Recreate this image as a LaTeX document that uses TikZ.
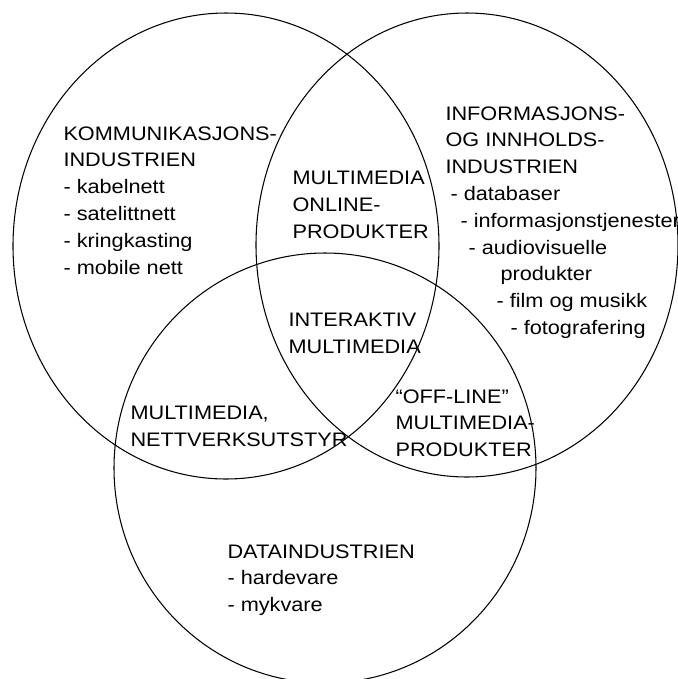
\documentclass[tikz,border=0pt]{standalone}
\usepackage{fontspec}
\setmainfont{Liberation Sans}[FakeStretch=1.11]
\usepackage{tikz}

\begin{document}
\begin{tikzpicture}[x=0.025cm,y=-0.025cm,line width=0.75pt,
  lbl/.style={anchor=north west,inner sep=0pt,align=left,font={\fontsize{13.9}{19.06}\selectfont}}]
\useasboundingbox (0,0) rectangle (678,679);
\draw (226,246) ellipse [x radius=213,y radius=233];
\draw (467,245) ellipse [x radius=211,y radius=232];
\draw (325,468) ellipse [x radius=211,y radius=215];
\node[lbl] (komm) at (63,126) {KOMMUNIKASJONS-\\INDUSTRIEN\\- kabelnett\\- satelittnett\\- kringkasting\\- mobile nett};
\node[lbl] (info) at (445,106) {INFORMASJONS-\\OG INNHOLDS-\\INDUSTRIEN\\\hspace*{0.125cm}- databaser\\\hspace*{0.375cm}- informasjonstjenester\\\hspace*{0.575cm}- audiovisuelle\\\hspace*{1.375cm}produkter\\\hspace*{1.275cm}- film og musikk\\\hspace*{1.625cm}- fotografering};
\node[lbl] (online) at (292,171) {MULTIMEDIA\\ONLINE-\\PRODUKTER};
\node[lbl] (inter) at (288,313) {INTERAKTIV\\MULTIMEDIA};
\node[lbl] (nett) at (130,406) {MULTIMEDIA,\\NETTVERKSUTSTYR};
\node[lbl] (offline) at (395,389) {“OFF-LINE”\\MULTIMEDIA-\\PRODUKTER};
\node[lbl] (data) at (227,544) {DATAINDUSTRIEN\\- hardevare\\- mykvare};
\end{tikzpicture}
\end{document}
